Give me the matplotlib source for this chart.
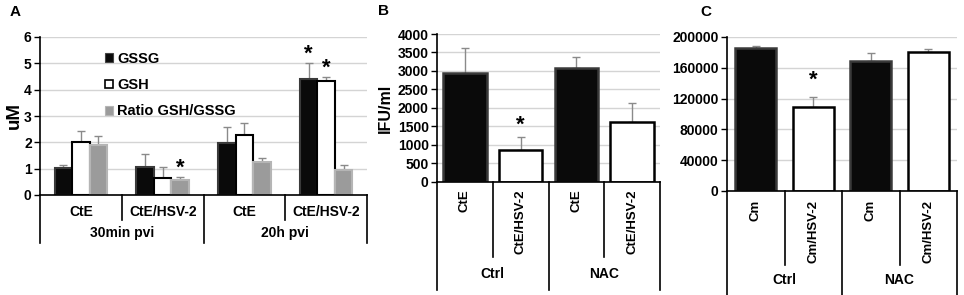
import matplotlib
matplotlib.use("Agg")
import matplotlib.pyplot as plt
import matplotlib.transforms as mtransforms
from matplotlib.patches import Patch
import numpy as np

plt.rcParams['font.family'] = ['Liberation Sans', 'DejaVu Sans']
plt.rcParams['font.weight'] = 'bold'

# ---- panel A data ----
a_cats = ['CtE', 'CtE/HSV-2', 'CtE', 'CtE/HSV-2']
a_groups = ['30min pvi', '20h pvi']
gssg = [1.03, 1.05, 1.96, 4.39]
gssg_err = [0.10, 0.50, 0.63, 0.61]
gsh = [2.02, 0.65, 2.29, 4.32]
gsh_err = [0.41, 0.40, 0.46, 0.16]
ratio = [1.88, 0.57, 1.24, 0.96]
ratio_err = [0.37, 0.11, 0.16, 0.18]
a_stars = [('ratio', 1), ('gssg', 3), ('gsh', 3)]

# ---- panel B data ----
b_cats = ['CtE', 'CtE/HSV-2', 'CtE', 'CtE/HSV-2']
b_groups = ['Ctrl', 'NAC']
b_vals = [2950, 855, 3085, 1620]
b_err = [660, 360, 285, 500]
b_stars = [1]

# ---- panel C data ----
c_cats = ['Cm', 'Cm/HSV-2', 'Cm', 'Cm/HSV-2']
c_groups = ['Ctrl', 'NAC']
c_vals = [185300, 108700, 168800, 180900]
c_err = [3000, 13000, 10000, 4000]
c_stars = [1]

W, H = 964, 295
fig = plt.figure(figsize=(W / 100, H / 100), dpi=100)


def px_axes(l, r, b, t):
    return fig.add_axes([l / W, 1 - b / H, (r - l) / W, (b - t) / H])


def fy(p):
    return 1 - p / H


def style(ax, ylim, ticks):
    ax.set_ylim(*ylim)
    ax.set_xlim(-0.5, 3.5)
    ax.set_yticks(ticks)
    ax.set_xticks([])
    ax.yaxis.grid(True, color='#d4d4d4', lw=1)
    ax.set_axisbelow(True)
    for s in ['top', 'right']:
        ax.spines[s].set_visible(False)
    ax.spines['left'].set_linewidth(1.2)
    ax.spines['bottom'].set_linewidth(1.2)
    ax.tick_params(axis='y', length=4, width=1, labelsize=10, pad=2)
    for lab in ax.get_yticklabels():
        lab.set_fontweight('bold')


def separators(ax, cat_end, grp_end):
    tr = mtransforms.blended_transform_factory(ax.transData, fig.transFigure)
    y0 = ax.get_position().y0
    for x in [0.5, 2.5]:
        ax.plot([x, x], [y0, fy(cat_end)], color='black', lw=1.2, transform=tr, clip_on=False)
    for x in [-0.5, 1.5, 3.5]:
        ax.plot([x, x], [y0, fy(grp_end)], color='black', lw=1.2, transform=tr, clip_on=False)
    return tr


def errs(ax, x, v, e):
    ax.errorbar(x, v, yerr=[np.zeros(len(e)), e], fmt='none', ecolor='#8a8a8a',
                elinewidth=1, capsize=3, capthick=1, zorder=1)


# ================= Panel A =================
axA = px_axes(40, 367, 195, 37)
style(axA, (0, 6), range(0, 7))
x = np.arange(4)
bw = 0.215
series = {
    'gssg': (gssg, gssg_err, -bw, dict(color='#0a0a0a', edgecolor='#3a3a3a')),
    'gsh': (gsh, gsh_err, 0, dict(color='white', edgecolor='black')),
    'ratio': (ratio, ratio_err, bw, dict(color='#9b9b9b', edgecolor='#b5b5b5')),
}
for k, (v, e, off, kw) in series.items():
    errs(axA, x + off, v, e)
    axA.bar(x + off, v, bw, lw=1.5, zorder=2, **kw)
for k, i in a_stars:
    v, e, off, _ = series[k]
    axA.text(i + off, v[i] + e[i] - 0.05, '*', ha='center', va='bottom',
             fontsize=16, fontweight='bold')
leg_handles = [Patch(facecolor='#0a0a0a', edgecolor='#444444', lw=0.8),
               Patch(facecolor='white', edgecolor='black', lw=1.2),
               Patch(facecolor='#9b9b9b', edgecolor='#b5b5b5', lw=0.8)]
axA.legend(leg_handles, ['GSSG', 'GSH', 'Ratio GSH/GSSG'], loc='upper left',
           bbox_to_anchor=(0.16, 0.99), frameon=False,
           handlelength=0.55, handleheight=0.55, handletextpad=0.25,
           labelspacing=0.85, prop={'weight': 'bold', 'size': 10.5})
trA = separators(axA, 220, 243)
for i, c in enumerate(a_cats):
    axA.text(i, fy(212), c, transform=trA, ha='center', va='center', fontsize=10, fontweight='bold')
for g, name in enumerate(a_groups):
    axA.text(2 * g + 0.5, fy(233), name, transform=trA, ha='center', va='center',
             fontsize=10, fontweight='bold')
fig.text(14 / W, fy(115), 'uM', rotation=90, ha='center', va='center', fontsize=13.5, fontweight='bold')
fig.text(10 / W, fy(12), 'A', ha='left', va='center', fontsize=11, fontweight='bold')

# ================= Panel B =================
axB = px_axes(437, 660, 181.5, 34)
style(axB, (0, 4000), range(0, 4001, 500))
bcol = ['#0a0a0a', 'white', '#0a0a0a', 'white']
bedge = ['#3a3a3a', 'black', '#3a3a3a', 'black']
errs(axB, x, b_vals, b_err)
axB.bar(x, b_vals, 0.78, color=bcol, edgecolor=bedge, lw=1.8, zorder=2)
for i in b_stars:
    axB.text(i, b_vals[i] + b_err[i] + 40, '*', ha='center', va='bottom', fontsize=16, fontweight='bold')
trB = separators(axB, 257, 290)
for i, c in enumerate(b_cats):
    axB.text(i, fy(189), c, transform=trB, rotation=90, ha='center', va='top', fontsize=9.5, fontweight='bold')
for g, name in enumerate(b_groups):
    axB.text(2 * g + 0.5, fy(274), name, transform=trB, ha='center', va='center',
             fontsize=10, fontweight='bold')
fig.text(385 / W, fy(108), 'IFU/ml', rotation=90, ha='center', va='center', fontsize=11.5, fontweight='bold')
fig.text(378 / W, fy(11), 'B', ha='left', va='center', fontsize=11, fontweight='bold')

# ================= Panel C =================
axC = px_axes(727, 957, 191, 37)
style(axC, (0, 200000), range(0, 200001, 40000))
errs(axC, x, c_vals, c_err)
axC.bar(x, c_vals, 0.72, color=bcol, edgecolor=bedge, lw=1.8, zorder=2)
for i in c_stars:
    axC.text(i, c_vals[i] + c_err[i] + 8000, '*', ha='center', va='bottom', fontsize=16, fontweight='bold')
trC = separators(axC, 265, 300)
for i, c in enumerate(c_cats):
    axC.text(i, fy(200), c, transform=trC, rotation=90, ha='center', va='top', fontsize=9.5, fontweight='bold')
for g, name in enumerate(c_groups):
    axC.text(2 * g + 0.5, fy(280), name, transform=trC, ha='center', va='center',
             fontsize=10, fontweight='bold')
fig.text(700 / W, fy(12), 'C', ha='left', va='center', fontsize=11, fontweight='bold')

fig.savefig('out.png', dpi=100)
